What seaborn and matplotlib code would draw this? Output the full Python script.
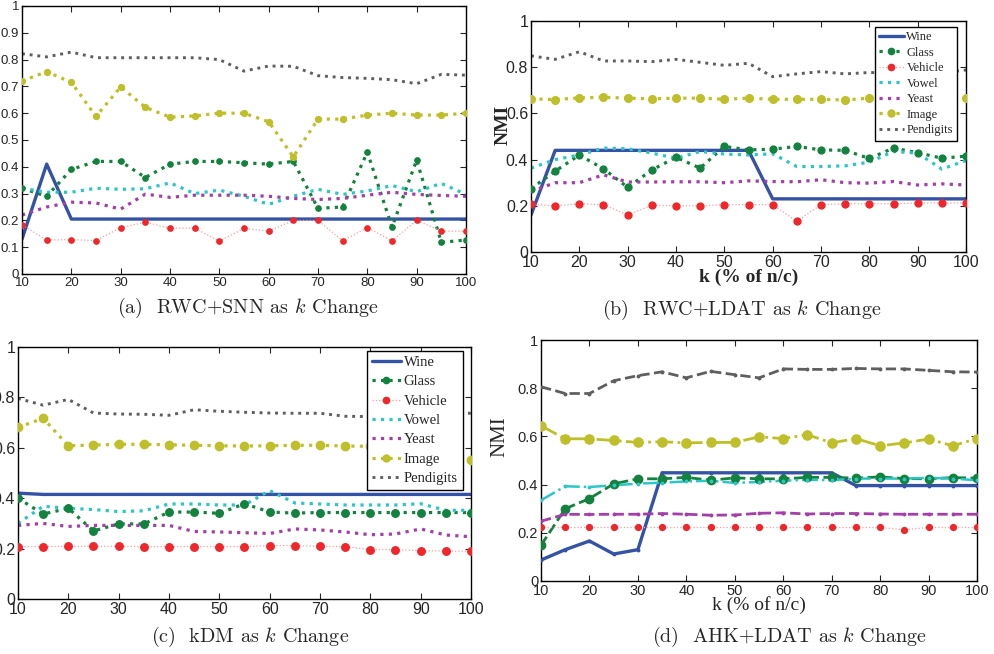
import seaborn as sns
import matplotlib.pyplot as plt
import pandas as pd
import numpy as np

k = [10, 15, 20, 25, 30, 35, 40, 45, 50, 55, 60, 65, 70, 75, 80, 85, 90, 95, 100]
names = ['Wine', 'Glass', 'Vehicle', 'Vowel', 'Yeast', 'Image', 'Pendigits']

# (a) RWC+SNN
a_wine = [0.13, 0.41, 0.205, 0.205, 0.205, 0.205, 0.205, 0.205, 0.205, 0.205, 0.205, 0.205, 0.205, 0.205, 0.205, 0.205, 0.205, 0.205, 0.205]
a_glass = [0.32, 0.29, 0.39, 0.42, 0.42, 0.36, 0.41, 0.42, 0.42, 0.415, 0.41, 0.42, 0.245, 0.25, 0.455, 0.175, 0.425, 0.118, 0.127]
a_vehicle = [0.183, 0.127, 0.128, 0.125, 0.173, 0.193, 0.171, 0.171, 0.123, 0.17, 0.16, 0.2, 0.2, 0.124, 0.173, 0.124, 0.2, 0.16, 0.16]
a_vowel = [0.32, 0.305, 0.305, 0.32, 0.316, 0.318, 0.34, 0.3, 0.313, 0.29, 0.26, 0.29, 0.316, 0.297, 0.31, 0.33, 0.307, 0.338, 0.297]
a_yeast = [0.22, 0.25, 0.268, 0.265, 0.242, 0.298, 0.286, 0.294, 0.294, 0.294, 0.29, 0.282, 0.278, 0.282, 0.294, 0.305, 0.297, 0.293, 0.29]
a_image = [0.72, 0.755, 0.715, 0.588, 0.698, 0.622, 0.585, 0.59, 0.6, 0.6, 0.568, 0.437, 0.578, 0.578, 0.593, 0.6, 0.593, 0.593, 0.6]
a_pend = [0.822, 0.81, 0.828, 0.807, 0.807, 0.807, 0.807, 0.807, 0.8, 0.757, 0.776, 0.775, 0.74, 0.733, 0.73, 0.725, 0.71, 0.745, 0.742]

# (b) RWC+LDAT
b_wine = [0.16, 0.44, 0.44, 0.44, 0.44, 0.44, 0.44, 0.44, 0.44, 0.44, 0.23, 0.23, 0.23, 0.23, 0.23, 0.23, 0.23, 0.23, 0.23]
b_glass = [0.274, 0.35, 0.42, 0.36, 0.28, 0.355, 0.41, 0.363, 0.457, 0.442, 0.445, 0.457, 0.442, 0.44, 0.405, 0.45, 0.43, 0.406, 0.415]
b_vehicle = [0.207, 0.2, 0.209, 0.205, 0.16, 0.203, 0.2, 0.2, 0.205, 0.205, 0.205, 0.133, 0.205, 0.209, 0.209, 0.209, 0.212, 0.212, 0.212]
b_vowel = [0.363, 0.4, 0.42, 0.45, 0.447, 0.428, 0.406, 0.435, 0.424, 0.42, 0.425, 0.37, 0.37, 0.373, 0.389, 0.435, 0.428, 0.359, 0.396]
b_yeast = [0.262, 0.3, 0.3, 0.334, 0.303, 0.303, 0.304, 0.304, 0.3, 0.308, 0.305, 0.304, 0.313, 0.3, 0.298, 0.305, 0.29, 0.295, 0.29]
b_image = [0.663, 0.66, 0.667, 0.67, 0.666, 0.663, 0.666, 0.666, 0.661, 0.666, 0.661, 0.661, 0.661, 0.658, 0.666, 0.665, 0.665, 0.665, 0.665]
b_pend = [0.849, 0.834, 0.867, 0.827, 0.827, 0.824, 0.834, 0.821, 0.808, 0.817, 0.759, 0.771, 0.781, 0.771, 0.777, 0.775, 0.77, 0.775, 0.788]

# (c) kDM
c_wine = [0.42, 0.415, 0.415, 0.415, 0.415, 0.415, 0.415, 0.415, 0.415, 0.415, 0.415, 0.415, 0.415, 0.415, 0.415, 0.415, 0.415, 0.415, 0.415]
c_glass = [0.4, 0.337, 0.36, 0.27, 0.298, 0.298, 0.345, 0.345, 0.34, 0.378, 0.345, 0.341, 0.343, 0.343, 0.343, 0.343, 0.343, 0.343, 0.343]
c_vehicle = [0.208, 0.208, 0.209, 0.209, 0.209, 0.208, 0.208, 0.208, 0.208, 0.208, 0.212, 0.212, 0.209, 0.208, 0.196, 0.196, 0.192, 0.19, 0.19]
c_vowel = [0.3, 0.368, 0.36, 0.355, 0.347, 0.35, 0.377, 0.377, 0.373, 0.373, 0.43, 0.381, 0.377, 0.373, 0.373, 0.373, 0.378, 0.352, 0.352]
c_yeast = [0.292, 0.3, 0.288, 0.292, 0.292, 0.292, 0.292, 0.268, 0.266, 0.263, 0.26, 0.278, 0.274, 0.266, 0.255, 0.258, 0.278, 0.254, 0.247]
c_image = [0.681, 0.717, 0.608, 0.611, 0.614, 0.614, 0.612, 0.61, 0.608, 0.607, 0.608, 0.61, 0.61, 0.607, 0.606, 0.605, 0.6, 0.6, 0.552]
c_pend = [0.796, 0.769, 0.792, 0.738, 0.734, 0.733, 0.729, 0.751, 0.745, 0.741, 0.738, 0.737, 0.737, 0.725, 0.724, 0.73, 0.735, 0.74, 0.737]

# (d) AHK+LDAT
d_wine = [0.087, 0.13, 0.166, 0.112, 0.13, 0.449, 0.449, 0.449, 0.449, 0.449, 0.449, 0.449, 0.449, 0.396, 0.396, 0.396, 0.396, 0.396, 0.396]
d_glass = [0.148, 0.3, 0.342, 0.403, 0.424, 0.424, 0.43, 0.418, 0.428, 0.424, 0.424, 0.43, 0.43, 0.427, 0.432, 0.425, 0.424, 0.429, 0.427]
d_vehicle = [0.222, 0.222, 0.222, 0.222, 0.222, 0.222, 0.222, 0.222, 0.222, 0.222, 0.222, 0.222, 0.222, 0.222, 0.222, 0.213, 0.222, 0.222, 0.222]
d_vowel = [0.335, 0.393, 0.39, 0.397, 0.404, 0.408, 0.413, 0.416, 0.407, 0.411, 0.416, 0.42, 0.418, 0.425, 0.425, 0.425, 0.428, 0.425, 0.418]
d_yeast = [0.248, 0.277, 0.276, 0.277, 0.277, 0.28, 0.277, 0.273, 0.274, 0.281, 0.283, 0.278, 0.28, 0.28, 0.278, 0.277, 0.277, 0.277, 0.277]
d_image = [0.644, 0.59, 0.59, 0.583, 0.575, 0.578, 0.573, 0.575, 0.575, 0.598, 0.591, 0.607, 0.573, 0.591, 0.561, 0.573, 0.589, 0.561, 0.591]
d_pend = [0.806, 0.778, 0.778, 0.831, 0.852, 0.868, 0.843, 0.87, 0.856, 0.843, 0.88, 0.878, 0.878, 0.882, 0.88, 0.88, 0.874, 0.868, 0.867]

colors = {'Wine': '#3553a6', 'Glass': '#13823f', 'Vehicle': '#f0262a', 'Vowel': '#2cc6c8',
          'Yeast': '#a43ea8', 'Image': '#bfbf2a', 'Pendigits': '#5f5f5f'}

sns.set_style('ticks')
plt.rcParams['mathtext.fontset'] = 'cm'
plt.rcParams['font.family'] = ['Liberation Sans', 'DejaVu Sans']

fig = plt.figure(figsize=(9.95, 6.54), dpi=100)
W, H = 995, 654


def axes_px(l, r, t, b):
    return fig.add_axes([l / W, 1 - b / H, (r - l) / W, (b - t) / H])


def draw(ax, series, ms_scale, styles, fs):
    df = pd.DataFrame({'k': k * len(names),
                       'NMI': np.concatenate(series),
                       'set': np.repeat(names, len(k))})
    for n in names:
        ls, lw, mk, ms, lcol = styles[n]
        sub = df[df['set'] == n]
        line_col = lcol if lcol else colors[n]
        sns.lineplot(data=sub, x='k', y='NMI', ax=ax, color=line_col, linestyle=ls,
                     linewidth=lw, marker=None, label=n, legend=False)
        if mk:
            ax.plot(sub['k'], sub['NMI'], linestyle='none', marker=mk, ms=ms * ms_scale,
                    color=colors[n], mec=colors[n], zorder=3)
    ax.set_xlim(10, 100)
    ax.set_ylim(0, 1)
    ax.set_xticks(np.arange(10, 101, 10))
    ax.tick_params(direction='in', top=True, right=True, labelsize=fs, length=4, pad=2)
    for s in ax.spines.values():
        s.set_linewidth(1.0)
        s.set_color('black')
    ax.set_xlabel('')
    ax.set_ylabel('')


def ytick_fmt(vals):
    return ['0' if v == 0 else ('1' if v == 1 else ('%g' % v)) for v in vals]


def make_legend(ax, styles, loc_box, size, spacing):
    from matplotlib.lines import Line2D
    handles = []
    for n in names:
        ls, lw, mk, ms, lcol = styles[n]
        handles.append(Line2D([], [], color=lcol if lcol else colors[n], linestyle=ls, linewidth=lw,
                              marker=mk, ms=ms, mfc=colors[n], mec=colors[n]))
    leg = ax.legend(handles, names, loc='upper right', bbox_to_anchor=loc_box, fancybox=False,
                    framealpha=1, edgecolor='black', prop={'family': 'Liberation Serif', 'size': size},
                    handlelength=2.0, handletextpad=0.2, borderpad=0.35, labelspacing=spacing,
                    borderaxespad=0)
    leg.get_frame().set_linewidth(1.0)


st_main = {'Wine': ('-', 2.4, None, 0, None),
           'Glass': (':', 2.3, 'o', 4.5, None),
           'Vehicle': (':', 0.9, 'o', 4.5, '#f4a0a0'),
           'Vowel': (':', 2.3, None, 0, None),
           'Yeast': (':', 2.3, None, 0, None),
           'Image': (':', 2.3, 'o', 5, None),
           'Pendigits': (':', 2.1, None, 0, None)}

st_d = {'Wine': ('-', 2.4, '.', 3, None),
        'Glass': ('--', 2.0, 'o', 5, None),
        'Vehicle': (':', 0.9, 'o', 3.5, '#f4a0a0'),
        'Vowel': ('-.', 1.8, '.', 3, None),
        'Yeast': ('--', 2.0, '.', 3, None),
        'Image': ('-.', 2.0, 'o', 5.5, None),
        'Pendigits': ('--', 2.0, '.', 3, None)}

cap_fs = 14.5

# (a)
ax1 = axes_px(22, 466, 6, 274)
draw(ax1, [a_wine, a_glass, a_vehicle, a_vowel, a_yeast, a_image, a_pend], 0.85, st_main, 9.5)
yt = np.round(np.arange(0, 1.01, 0.1), 1)
ax1.set_yticks(yt)
ax1.set_yticklabels(ytick_fmt(yt))
fig.text(248 / W, 1 - 308 / H, r'(a)  RWC+SNN as $k$ Change', ha='center', va='center',
         family='cmr10', fontsize=cap_fs)

# (b)
ax2 = axes_px(531, 966, 21, 252)
draw(ax2, [b_wine, b_glass, b_vehicle, b_vowel, b_yeast, b_image, b_pend], 1.1, st_main, 11.5)
yt2 = np.round(np.arange(0, 1.01, 0.2), 1)
ax2.set_yticks(yt2)
ax2.set_yticklabels(ytick_fmt(yt2))
ax2.set_xlabel('k (% of n/c)', family='Liberation Serif', fontweight='bold', fontsize=14, labelpad=-1)
ax2.set_ylabel('NMI', family='Liberation Serif', fontweight='bold', fontsize=14)
ax2.yaxis.set_label_coords(-0.045, 0.55)
make_legend(ax2, st_main, (0.98, 0.975), 9, 0.28)
fig.text(742 / W, 1 - 310 / H, r'(b)  RWC+LDAT as $k$ Change', ha='center', va='center',
         family='cmr10', fontsize=cap_fs)

# (c)
ax3 = axes_px(18, 471, 347, 599)
draw(ax3, [c_wine, c_glass, c_vehicle, c_vowel, c_yeast, c_image, c_pend], 1.2, st_main, 11.5)
ax3.set_yticks(yt2)
ax3.set_yticklabels(ytick_fmt(yt2))
make_legend(ax3, st_main, (0.982, 0.985), 10.5, 0.42)
fig.text(250 / W, 1 - 637 / H, r'(c)  kDM as $k$ Change', ha='center', va='center',
         family='cmr10', fontsize=cap_fs)

# (d)
ax4 = axes_px(541, 977, 340, 581)
draw(ax4, [d_wine, d_glass, d_vehicle, d_vowel, d_yeast, d_image, d_pend], 1.2, st_d, 10.5)
ax4.set_yticks(yt2)
ax4.set_yticklabels(ytick_fmt(yt2))
ax4.set_xlabel('k (% of n/c)', family='Liberation Serif', fontsize=14, labelpad=-1)
ax4.set_ylabel('NMI', family='Liberation Serif', fontsize=15)
ax4.yaxis.set_label_coords(-0.072, 0.6)
fig.text(790 / W, 1 - 637 / H, r'(d)  AHK+LDAT as $k$ Change', ha='center', va='center',
         family='cmr10', fontsize=cap_fs)

fig.savefig('out.png', dpi=100)
